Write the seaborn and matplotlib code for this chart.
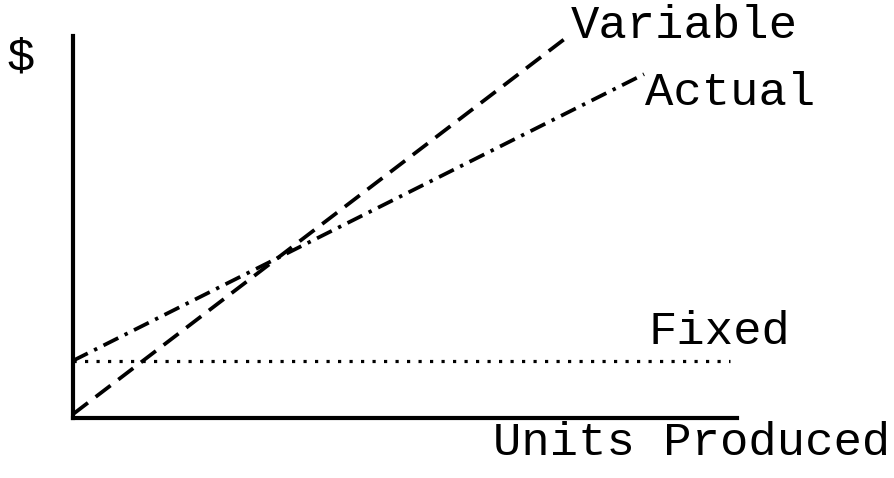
import numpy as np
import pandas as pd
import matplotlib
matplotlib.use("Agg")
import matplotlib.pyplot as plt
import seaborn as sns

# cost lines (x = units, y = $)
variable_x = [0, 7.5]
variable_y = [0.1, 10.05]
actual_x = [0, 8.6]
actual_y = [1.5, 9.0]
fixed_x = [0, 9.9]
fixed_y = [1.5, 1.5]

sns.set_style("white")
plt.rcParams['font.family'] = ['Liberation Mono', 'DejaVu Sans Mono']
plt.rcParams['text.color'] = 'black'

fig = plt.figure(figsize=(8.94, 4.78), dpi=100)
ax = fig.add_axes([73 / 894, 60 / 478, 664 / 894, 382 / 478])

sns.lineplot(x=variable_x, y=variable_y, ax=ax, color="black", lw=2.7,
             clip_on=False)
ax.lines[-1].set_dashes((5.0, 2.6))
sns.lineplot(x=actual_x, y=actual_y, ax=ax, color="black", lw=2.7,
             clip_on=False)
ax.lines[-1].set_dashes((4.4, 1.9, 0.9, 1.9))
sns.lineplot(x=fixed_x, y=fixed_y, ax=ax, color="black", lw=2.3,
             clip_on=False)
ax.lines[-1].set_dashes((1, 2.6))

ax.set_xlim(0, 10)
ax.set_ylim(0, 10)
ax.set_xticks([])
ax.set_yticks([])
for side in ["top", "right"]:
    ax.spines[side].set_visible(False)
for side in ["left", "bottom"]:
    ax.spines[side].set_color("black")
    ax.spines[side].set_linewidth(3.0)

fs = 34
ax.text(7.5, 10.25, "Variable", fontsize=fs, ha="left", va="center", clip_on=False)
ax.text(8.62, 8.5, "Actual", fontsize=fs, ha="left", va="center", clip_on=False)
ax.text(8.67, 2.25, "Fixed", fontsize=fs, ha="left", va="center", clip_on=False)

fig.text(21 / 894, 1 - 58 / 478, "$", fontsize=fs, ha="center", va="center")
fig.text(890 / 894, 1 - 443 / 478, "Units Produced", fontsize=fs, ha="right", va="center")

fig.savefig("out.png", dpi=100)
